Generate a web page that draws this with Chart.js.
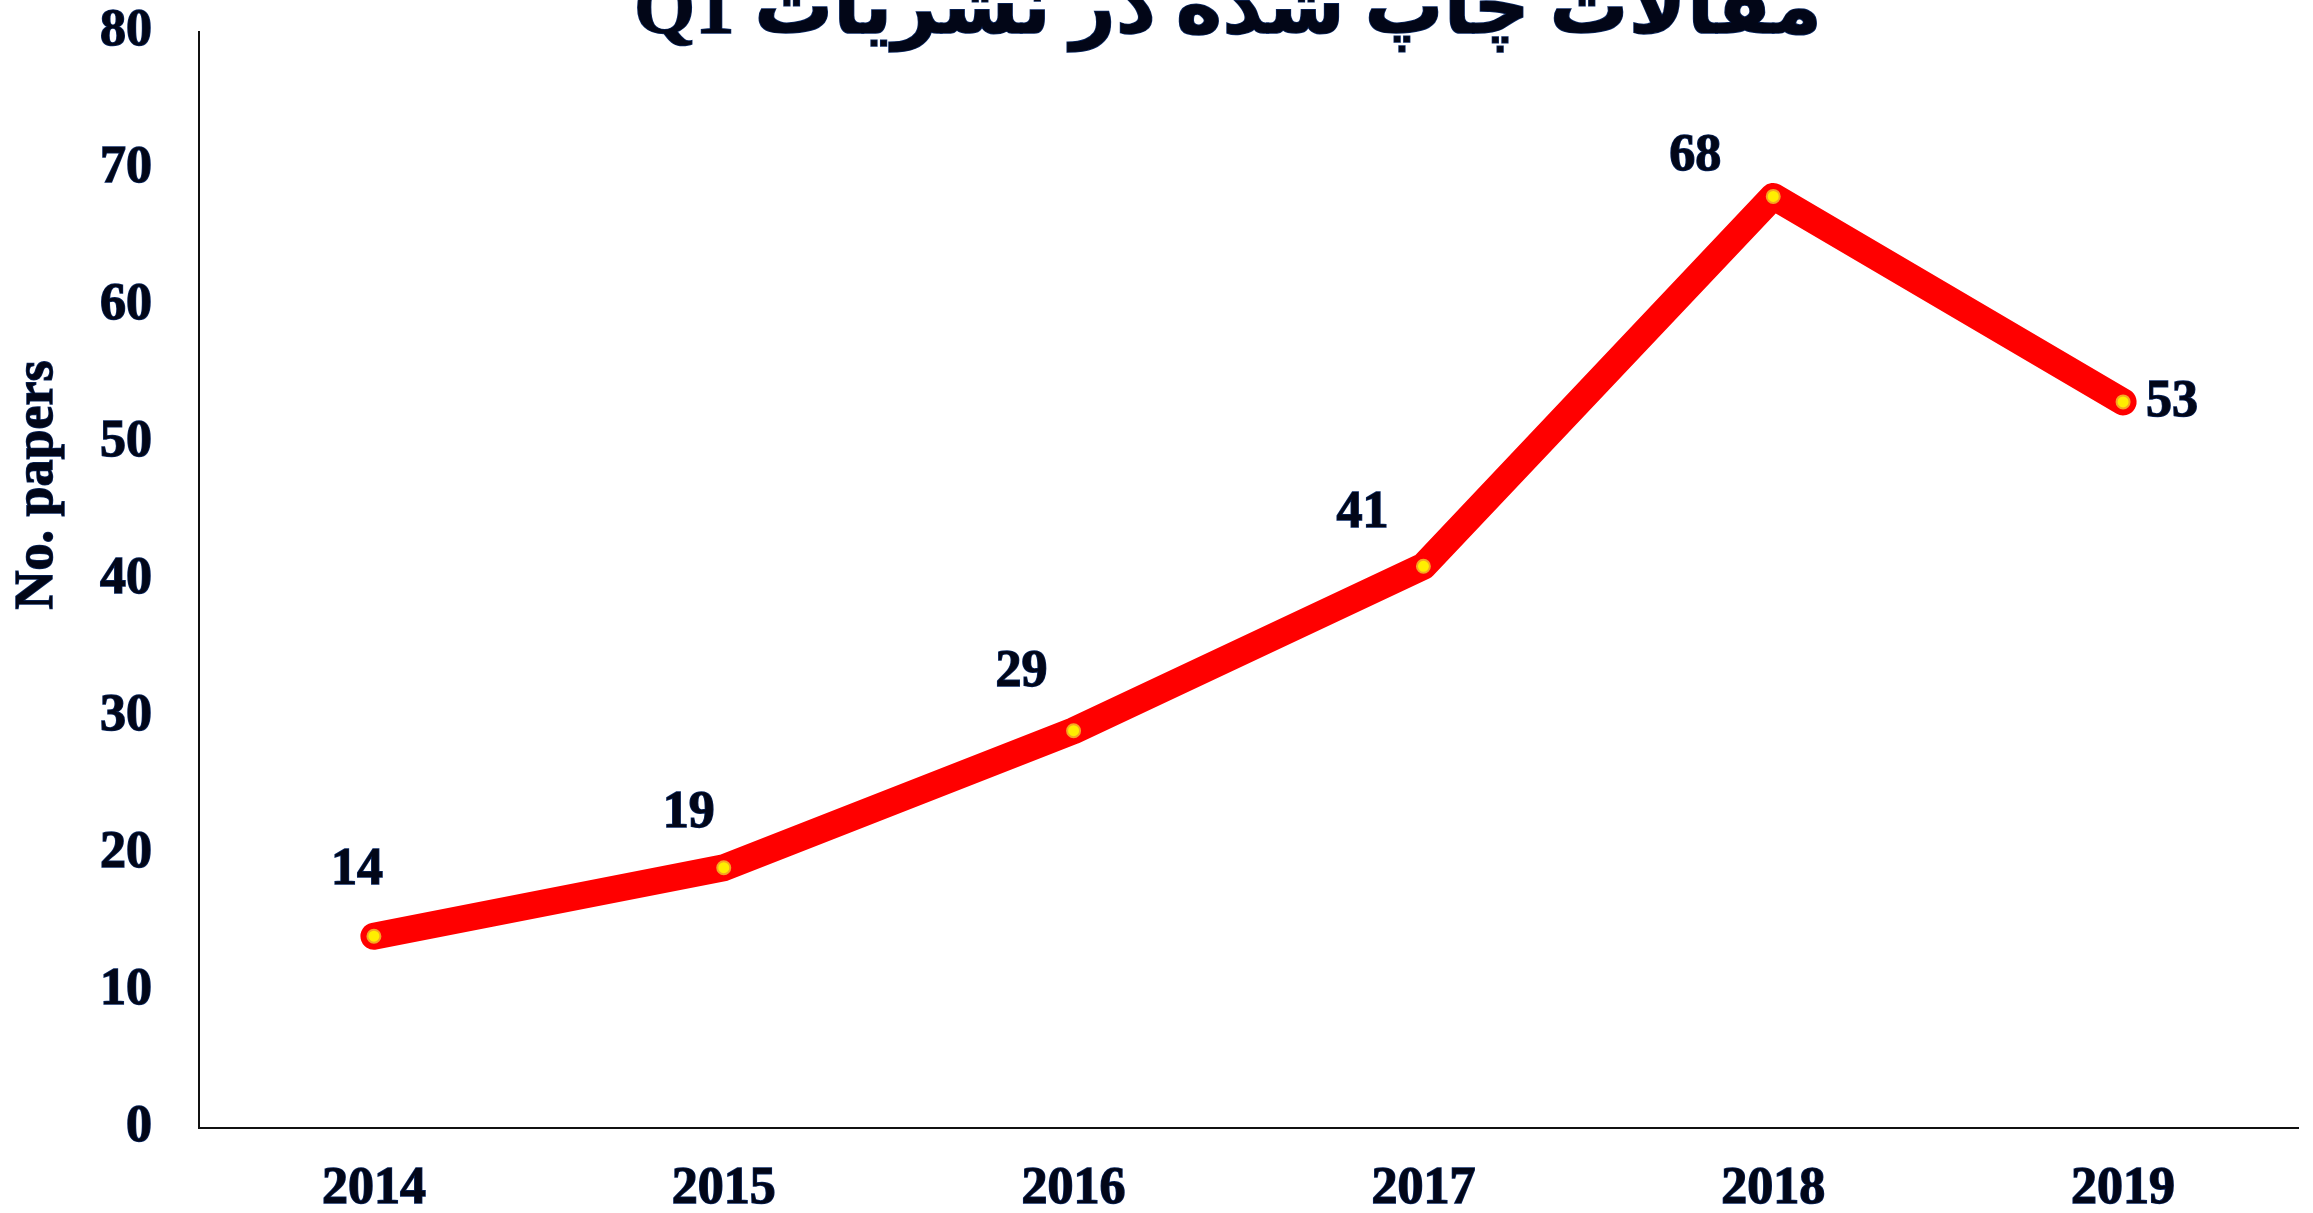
<!DOCTYPE html>
<html>
<head>
<meta charset="utf-8">
<script src="https://cdn.jsdelivr.net/npm/chart.js@4.4.1/dist/chart.umd.min.js"></script>
<style>
  html, body { margin: 0; padding: 0; background: #fff; }
  #wrap { width: 2313px; height: 1213px; }
</style>
</head>
<body>
<div id="wrap"><canvas id="paperChart"></canvas></div>
<script>
const years = ["2014", "2015", "2016", "2017", "2018", "2019"];
const papers = [14, 19, 29, 41, 68, 53];
const yTicks = [0, 10, 20, 30, 40, 50, 60, 70, 80];
const chartTitle = "مقالات چاپ شده در نشریات Q1";
const yTitle = "No. papers";

const textColor = "#020617";
const outline = "#0b2a66";
const serif = "'Liberation Serif', 'Times New Roman', 'DejaVu Sans', serif";

// label nudges (px) so each number sits where the original put it
const labelShift = [[-17, -66], [-35, -54], [-52, -58], [-61, -53], [-78, -40], [49, 1]];

const extrasPlugin = {
  id: "extras",
  afterDatasetsDraw(chart) {
    const ctx = chart.ctx;
    const meta = chart.getDatasetMeta(0);
    ctx.save();
    ctx.font = "bold 52px " + serif;
    ctx.textAlign = "center";
    ctx.textBaseline = "middle";
    ctx.fillStyle = textColor;
    ctx.strokeStyle = outline;
    ctx.lineWidth = 1.5;
    meta.data.forEach((pt, i) => {
      const x = pt.x + labelShift[i][0];
      const y = pt.y + labelShift[i][1];
      ctx.strokeText(String(papers[i]), x, y);
      ctx.fillText(String(papers[i]), x, y);
    });

    // y axis title sits above the middle of the axis in the original
    ctx.save();
    ctx.translate(38, 485);
    ctx.rotate(-Math.PI / 2);
    ctx.font = "bold 54px " + serif;
    ctx.strokeText(yTitle, 0, 0);
    ctx.fillText(yTitle, 0, 0);
    ctx.restore();

    // title, partly cut off by the top edge like in the source image
    let size = 80;
    ctx.font = "bold " + size + "px " + serif;
    const w = ctx.measureText(chartTitle).width;
    size = size * 1188 / w;
    ctx.font = "bold " + size + "px " + serif;
    ctx.direction = "rtl";
    ctx.textBaseline = "alphabetic";
    ctx.strokeText(chartTitle, 1228, 33);
    ctx.fillText(chartTitle, 1228, 33);
    ctx.restore();
  }
};

new Chart(document.getElementById("paperChart"), {
  type: "line",
  data: {
    labels: years,
    datasets: [{
      data: papers,
      borderColor: "#ff0000",
      borderWidth: 27,
      borderCapStyle: "round",
      borderJoinStyle: "round",
      tension: 0,
      pointRadius: 6.5,
      pointBackgroundColor: "#ffee00",
      pointBorderColor: "#f5a623",
      pointBorderWidth: 2
    }]
  },
  options: {
    responsive: true,
    maintainAspectRatio: false,
    animation: false,
    clip: false,
    layout: { padding: { top: 32, right: 15, left: 0, bottom: 0 } },
    plugins: { legend: { display: false }, tooltip: { enabled: false } },
    scales: {
      x: {
        offset: true,
        grid: { display: false, drawTicks: false },
        border: { display: true, color: "#111", width: 2 },
        ticks: {
          padding: 30,
          color: textColor,
          textStrokeColor: outline,
          textStrokeWidth: 1.5,
          font: { family: serif, size: 52, weight: "bold" }
        },
        afterFit(scale) { scale.height = 85; }
      },
      y: {
        min: 0,
        max: 80,
        afterBuildTicks(scale) { scale.ticks = yTicks.map(v => ({ value: v })); },
        grid: { display: false, drawTicks: false },
        border: { display: true, color: "#111", width: 2 },
        ticks: {
          padding: 47,
          color: textColor,
          textStrokeColor: outline,
          textStrokeWidth: 1.5,
          font: { family: serif, size: 52, weight: "bold" }
        },
        afterFit(scale) {
          scale.width = 199;
          scale.paddingTop = 0;
          scale.paddingBottom = 0;
        }
      }
    }
  },
  plugins: [extrasPlugin]
});
</script>
</body>
</html>
